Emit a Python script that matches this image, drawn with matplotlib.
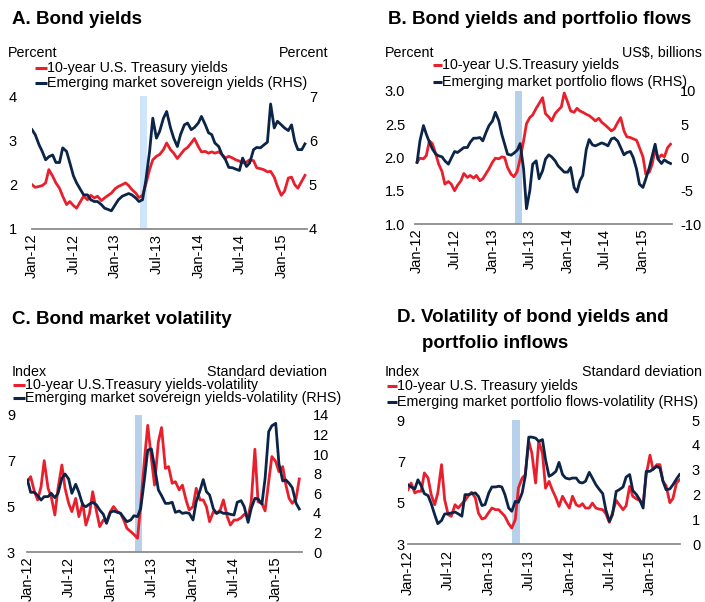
import pandas as pd
import matplotlib
matplotlib.use("Agg")
import matplotlib.pyplot as plt
import matplotlib.dates as mdates
from matplotlib.lines import Line2D

plt.rcParams["font.family"] = ["Liberation Sans", "DejaVu Sans"]
plt.rcParams["axes.unicode_minus"] = False

W, H = 705, 602
RED = "#e8202d"
NAVY = "#0b2447"
AXIS_GREY = "#8c8c8c"

# semi-monthly observations (1st and 15th)
dates_short = pd.date_range("2012-01-01", "2015-04-15", freq="SMS")
dates_long = pd.date_range("2012-01-01", "2015-05-15", freq="SMS")

band_start = pd.Timestamp("2013-04-18")
band_end = pd.Timestamp("2013-05-22")

# A. Bond yields (percent)
us10y_a = [2.0, 1.94, 1.96, 1.98, 2.04, 2.34, 2.19, 2.04, 1.92, 1.74,
           1.55, 1.62, 1.53, 1.47, 1.62, 1.74, 1.66, 1.76, 1.7, 1.74,
           1.64, 1.7, 1.76, 1.81, 1.91, 1.96, 2.0, 2.04, 1.98, 1.89,
           1.81, 1.71, 1.76, 2.0, 2.34, 2.56, 2.64, 2.68, 2.79, 2.94,
           2.79, 2.71, 2.59, 2.68, 2.79, 2.84, 2.94, 3.04, 2.86, 2.74,
           2.75, 2.71, 2.74, 2.71, 2.74, 2.68, 2.6, 2.64, 2.6, 2.56,
           2.53, 2.49, 2.51, 2.56, 2.54, 2.38, 2.36, 2.34, 2.29, 2.3,
           2.17, 1.96, 1.76, 1.85, 2.15, 2.17, 2.0, 1.92, 2.08, 2.21]
em_yield_a = [6.24, 6.13, 5.9, 5.75, 5.56, 5.63, 5.67, 5.5, 5.5, 5.83,
              5.75, 5.5, 5.2, 5.04, 4.89, 4.77, 4.77, 4.66, 4.62, 4.62,
              4.55, 4.47, 4.44, 4.41, 4.55, 4.66, 4.74, 4.77, 4.8, 4.77,
              4.7, 4.62, 4.66, 5.08, 5.75, 6.5, 6.05, 6.2, 6.5, 6.65,
              6.28, 6.05, 5.86, 6.13, 6.35, 6.39, 6.24, 6.29, 6.39, 6.54,
              6.35, 6.17, 6.13, 5.94, 5.86, 5.68, 5.56, 5.39, 5.38, 5.35,
              5.32, 5.6, 5.41, 5.49, 5.79, 5.84, 5.83, 5.89, 5.96, 6.82,
              6.28, 6.43, 6.35, 6.28, 6.22, 6.35, 5.98, 5.79, 5.79, 5.92]

# B. Bond yields (percent) and portfolio flows (US$ billions)
us10y_b = [1.93, 1.99, 1.98, 2.03, 2.25, 2.21, 2.05, 1.9, 1.79, 1.6,
           1.64, 1.6, 1.5, 1.58, 1.65, 1.76, 1.7, 1.73, 1.69, 1.73,
           1.65, 1.68, 1.76, 1.83, 1.93, 1.99, 1.98, 2.01, 2.0, 1.85,
           1.75, 1.71, 1.79, 1.98, 2.25, 2.51, 2.6, 2.64, 2.74, 2.81,
           2.9, 2.66, 2.61, 2.55, 2.66, 2.71, 2.76, 2.97, 2.83, 2.7,
           2.68, 2.74, 2.7, 2.68, 2.65, 2.63, 2.59, 2.55, 2.59, 2.53,
           2.49, 2.45, 2.4, 2.43, 2.53, 2.6, 2.4, 2.31, 2.3, 2.28,
           2.26, 2.15, 2.01, 1.75, 1.78, 1.9, 2.13, 1.98, 2.04, 2.01,
           2.15, 2.2]
em_flows_b = [-0.75, 2.5, 4.8, 3.5, 2.3, 1.3, 0.5, 0.25, 0.1, -0.5,
              -1.0, -0.1, 0.9, 0.75, 1.15, 1.5, 1.5, 2.3, 2.9, 2.9,
              3.0, 2.5, 3.8, 4.8, 5.5, 6.8, 5.5, 3.5, 2.0, 0.5,
              0.35, 0.65, 1.1, 2.1, -1.75, -7.7, -5.0, -1.0, -0.5, -3.2,
              -2.0, -0.25, 0.4, 0.1, -0.5, -1.25, -1.75, -2.2, -2.2, -1.5,
              -4.5, -5.2, -3.5, -2.7, 1.2, 2.7, 1.9, 1.75, 2.0, 2.2,
              2.0, 1.75, 2.8, 2.95, 2.45, 1.5, 0.4, 0.75, 0.9, 0.0,
              -1.75, -4.0, -4.5, -3.2, -1.5, 0.25, 2.0, -0.25, -0.9, -0.35,
              -0.7, -0.9]

# C. Bond market volatility (index, standard deviation)
us10y_vol_c = [6.08, 6.3, 5.64, 5.28, 5.86, 7.0, 5.79, 5.42, 4.62, 5.79,
               6.81, 5.79, 5.13, 4.77, 5.35, 4.55, 5.13, 4.18, 4.69, 5.64,
               4.77, 4.11, 4.4, 4.33, 4.77, 4.99, 4.77, 4.69, 4.4, 4.04,
               3.89, 3.77, 3.6, 5.06, 7.1, 8.55, 7.1, 5.93, 7.83, 8.45,
               6.66, 6.74, 6.01, 6.08, 5.72, 5.93, 5.28, 4.84, 4.99, 5.79,
               5.28, 5.28, 4.99, 4.33, 4.77, 4.69, 4.84, 5.28, 4.55, 4.18,
               4.4, 4.4, 4.5, 4.65, 4.55, 5.2, 7.5, 5.2, 5.13, 4.8,
               6.08, 7.18, 6.96, 6.52, 6.74, 5.93, 5.35, 5.13, 5.35, 6.2]
em_yield_vol_c = [7.36, 6.1, 6.1, 5.76, 5.31, 5.66, 5.66, 6.0, 5.55, 6.0,
                  7.53, 7.97, 7.46, 6.0, 6.92, 6.1, 4.8, 4.63, 4.9, 5.08,
                  4.8, 4.29, 3.85, 2.93, 4.05, 4.19, 4.05, 3.95, 3.51, 3.1,
                  3.27, 3.71, 3.61, 4.46, 7.53, 10.42, 10.53, 8.72, 6.34, 5.76,
                  4.97, 4.97, 5.08, 4.05, 4.19, 3.95, 4.02, 3.95, 3.27, 5.14,
                  6.3, 7.4, 6.17, 5.83, 4.4, 3.95, 4.12, 3.95, 3.95, 3.85,
                  3.78, 5.08, 5.25, 4.63, 3.03, 4.46, 5.48, 5.42, 4.9, 7.5,
                  12.3, 12.9, 13.15, 9.06, 7.26, 7.36, 7.02, 6.58, 4.97, 4.4]

# D. Volatility of bond yields and portfolio inflows
us10y_vol_d = [5.63, 5.95, 5.47, 5.55, 5.55, 6.44, 6.19, 5.39, 4.9, 5.47,
               6.84, 5.15, 4.42, 4.34, 4.9, 4.74, 4.95, 5.11, 5.34, 5.5,
               5.23, 4.5, 4.21, 4.26, 4.53, 4.74, 4.66, 4.66, 4.5, 4.34,
               3.98, 3.77, 4.18, 5.71, 6.19, 6.35, 7.97, 7.4, 5.95, 7.97,
               7.4, 5.7, 6.03, 5.63, 5.23, 4.82, 5.31, 5.02, 4.74, 5.31,
               4.9, 4.82, 4.95, 4.74, 4.74, 4.98, 4.74, 4.69, 4.66, 4.47,
               4.05, 4.5, 5.11, 4.9, 4.66, 4.85, 5.79, 5.31, 5.18, 5.11,
               4.95, 6.35, 7.3, 6.6, 6.84, 6.84, 6.03, 5.82, 5.0, 5.2,
               5.95, 6.11]
em_flows_vol_d = [2.39, 2.3, 2.22, 2.59, 2.35, 2.03, 1.95, 1.63, 1.18, 0.82,
                  0.95, 1.21, 1.22, 1.25, 1.29, 1.22, 1.12, 1.99, 1.99, 2.03,
                  2.06, 1.92, 1.55, 1.59, 2.06, 2.3, 2.3, 2.33, 2.3, 1.99,
                  1.45, 1.32, 1.72, 1.68, 2.06, 2.73, 4.31, 4.31, 4.27, 4.14,
                  4.21, 3.4, 2.73, 2.8, 2.93, 3.29, 2.8, 2.66, 2.62, 2.66,
                  2.66, 2.49, 2.46, 2.53, 2.89, 2.66, 2.39, 2.22, 2.03, 1.38,
                  0.91, 1.18, 2.12, 2.19, 2.3, 2.7, 2.8, 2.16, 1.99, 1.79,
                  1.45, 2.93, 2.93, 3.02, 3.13, 3.06, 2.53, 2.19, 2.22, 2.39,
                  2.62, 2.8]


def fx(x):
    return x / W


def fy(y):
    return 1 - y / H


def pixel_axes(fig, left, top, right, bottom):
    return fig.add_axes([fx(left), fy(bottom), (right - left) / W, (bottom - top) / H])


def legend_row(fig, x0, x1, y, color, label):
    fig.add_artist(Line2D([fx(x0), fx(x1)], [fy(y), fy(y)], color=color, lw=2.2,
                          solid_capstyle="butt"))
    fig.text(fx(x1), fy(y), label, fontsize=10.3, va="center", ha="left")


def panel(fig, box, dates, left_vals, right_vals, xlim, left_lim, left_ticks,
          right_lim, right_ticks, pads, band_color, left_fmt="{:g}", xpad=3.5):
    ax = pixel_axes(fig, *box)
    ax.axvspan(band_start, band_end, color=band_color, lw=0, zorder=0)
    ax.plot(dates, left_vals, color=RED, lw=2.0, zorder=2)
    ax2 = ax.twinx()
    ax2.plot(dates, right_vals, color=NAVY, lw=2.0, zorder=3)

    ax.set_xlim(pd.Timestamp(xlim[0]), pd.Timestamp(xlim[1]))
    ax.set_ylim(*left_lim)
    ax.set_yticks(left_ticks)
    ax.set_yticklabels([left_fmt.format(t) for t in left_ticks])
    ax2.set_ylim(*right_lim)
    ax2.set_yticks(right_ticks)

    ax.xaxis.set_major_locator(mdates.MonthLocator(bymonth=[1, 7]))
    ax.xaxis.set_major_formatter(mdates.DateFormatter("%b-%y"))
    ax.tick_params(axis="x", length=0, pad=xpad, labelsize=10.5, labelrotation=90)
    ax.tick_params(axis="y", length=0, pad=pads[0], labelsize=10.5)
    ax2.tick_params(axis="y", length=0, pad=pads[1], labelsize=10.5)

    for a in (ax, ax2):
        for side in ("top", "left", "right", "bottom"):
            a.spines[side].set_visible(False)
    ax.spines["bottom"].set_visible(True)
    ax.spines["bottom"].set_color(AXIS_GREY)
    ax.spines["bottom"].set_linewidth(1.3)
    return ax, ax2


fig = plt.figure(figsize=(W / 100, H / 100), dpi=100)
TITLE_SIZE = 13.5

# A. Bond yields
panel(fig, (32, 96, 307, 229), dates_short, us10y_a, em_yield_a,
      ("2012-01-01", "2015-04-24"), (1, 4), [1, 2, 3, 4], (4, 7), [4, 5, 6, 7],
      (10.8, 1.4), "#cfe5fb")
fig.text(fx(12), fy(20), "A. Bond yields", fontsize=TITLE_SIZE, fontweight="bold",
         va="center")
fig.text(fx(8), fy(53), "Percent", fontsize=10.3, va="center")
fig.text(fx(328), fy(53), "Percent", fontsize=10.3, va="center", ha="right")
legend_row(fig, 35, 47, 68, RED, "10-year U.S. Treasury yields")
legend_row(fig, 35, 47, 83, NAVY, "Emerging market sovereign yields (RHS)")

# B. Bond yields and portfolio flows
panel(fig, (415, 91, 672, 224), dates_long, us10y_b, em_flows_b,
      ("2011-12-22", "2015-05-22"), (1.0, 3.0), [1.0, 1.5, 2.0, 2.5, 3.0],
      (-10, 10), [-10, -5, 0, 5, 10], (7.2, 5.8), "#b8d1ea", left_fmt="{:.1f}")
fig.text(fx(388), fy(20), "B. Bond yields and portfolio flows", fontsize=TITLE_SIZE,
         fontweight="bold", va="center")
fig.text(fx(385), fy(53), "Percent", fontsize=10.3, va="center")
fig.text(fx(702), fy(53), "US$, billions", fontsize=10.3, va="center", ha="right")
legend_row(fig, 433, 442, 65, RED, "10-year U.S.Treasury yields")
legend_row(fig, 433, 442, 82, NAVY, "Emerging market portfolio flows (RHS)")

# C. Bond market volatility
panel(fig, (27, 415, 302, 552), dates_short, us10y_vol_c, em_yield_vol_c,
      ("2011-12-30", "2015-04-27"), (3, 9), [3, 5, 7, 9], (0, 14),
      list(range(0, 15, 2)), (8.6, 7.9), "#b8d1ea")
fig.text(fx(12), fy(320), "C. Bond market volatility", fontsize=TITLE_SIZE,
         fontweight="bold", va="center")
fig.text(fx(12), fy(372), "Index", fontsize=10.3, va="center")
fig.text(fx(327), fy(372), "Standard deviation", fontsize=10.3, va="center", ha="right")
legend_row(fig, 13, 25, 385, RED, "10-year U.S.Treasury yields-volatility")
legend_row(fig, 13, 25, 398, NAVY, "Emerging market sovereign yields-volatility (RHS)")

# D. Volatility of bond yields and portfolio inflows
panel(fig, (408, 420, 680, 544), dates_long, us10y_vol_d, em_flows_vol_d,
      ("2012-01-01", "2015-05-17"), (3, 9), [3, 5, 7, 9], (0, 5),
      [0, 1, 2, 3, 4, 5], (2.2, 8.6), "#b8d1ea", xpad=4.5)
fig.text(fx(397), fy(318), "D. Volatility of bond yields and", fontsize=TITLE_SIZE,
         fontweight="bold", va="center")
fig.text(fx(422), fy(343), "portfolio inflows", fontsize=TITLE_SIZE, fontweight="bold",
         va="center")
fig.text(fx(385), fy(372), "Index", fontsize=10.3, va="center")
fig.text(fx(702), fy(372), "Standard deviation", fontsize=10.3, va="center", ha="right")
legend_row(fig, 387, 397, 386, RED, "10-year U.S. Treasury yields")
legend_row(fig, 387, 397, 402, NAVY, "Emerging market portfolio flows-volatility (RHS)")

fig.savefig("out.png", dpi=100)
